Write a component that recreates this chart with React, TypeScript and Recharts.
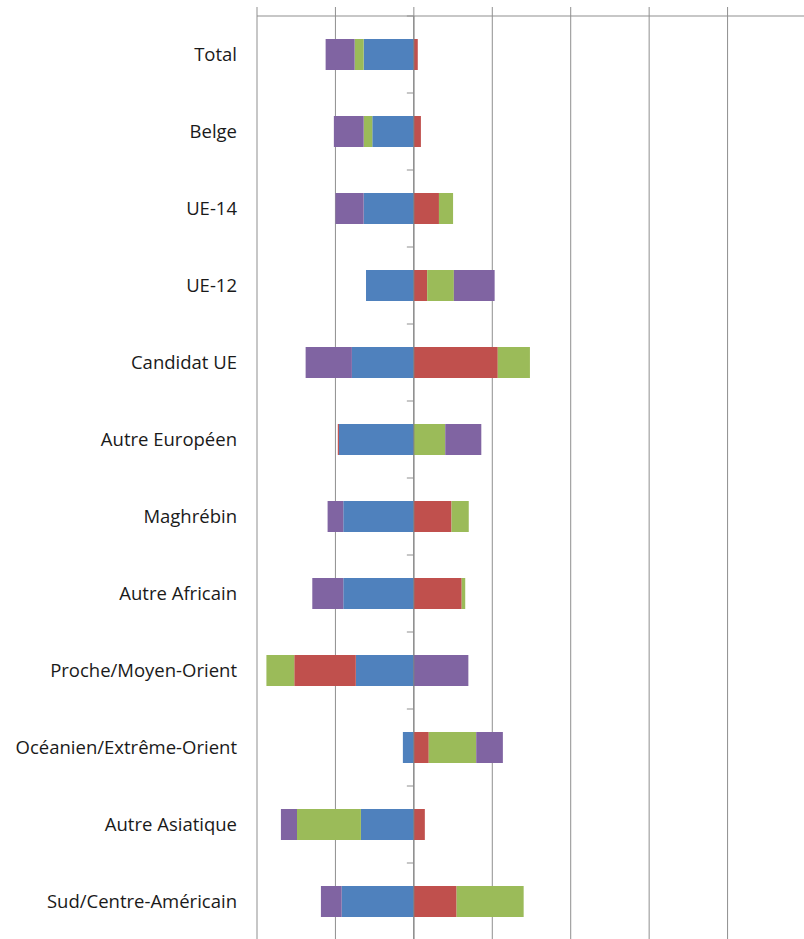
import React from "react";
import { BarChart, Bar, XAxis, YAxis, CartesianGrid, ReferenceLine } from "recharts";

const categories = [
  "Total",
  "Belge",
  "UE-14",
  "UE-12",
  "Candidat UE",
  "Autre Européen",
  "Maghrébin",
  "Autre Africain",
  "Proche/Moyen-Orient",
  "Océanien/Extrême-Orient",
  "Autre Asiatique",
  "Sud/Centre-Américain",
];

// stacked in this order, negatives go left from 0, positives right
const serie1 = [-6.4, -5.3, -6.4, -6.1, -7.9, -9.55, -9.0, -9.0, -7.4, -1.4, -6.75, -9.2];
const serie2 = [0.5, 0.9, 3.2, 1.7, 10.7, -0.15, 4.8, 6.1, -7.85, 1.9, 1.4, 5.45];
const serie3 = [-1.15, -1.1, 1.8, 3.4, 4.1, 4.0, 2.2, 0.45, -3.55, 6.05, -8.15, 8.55];
const serie4 = [-3.7, -3.8, -3.6, 5.2, -5.9, 4.6, -2.0, -3.95, 6.95, 3.4, -2.05, -2.65];

const xTicks = [-20, -10, 0, 10, 20, 30, 40, 50];

const data = categories.map((name, i) => ({
  name,
  s1: serie1[i],
  s2: serie2[i],
  s3: serie3[i],
  s4: serie4[i],
}));

const WIDTH = 806;
const HEIGHT = 940;
const Y_AXIS_W = 257;
const TOP = 16;
const GRID = "#8f8f8f";

const plotW = WIDTH - Y_AXIS_W;
const plotH = HEIGHT - TOP;
const bandH = plotH / categories.length;
const zeroX = Y_AXIS_W + ((0 - xTicks[0]) / (xTicks[xTicks.length - 1] - xTicks[0])) * plotW;

const NoLabel = () => <g />;

const CategoryTick = (props: any) => {
  const { x, y, payload } = props;
  const yb = y - bandH / 2;
  return (
    <g>
      <text
        x={x}
        y={y}
        dy={6}
        textAnchor="end"
        fill="#1a1a1a"
        fontSize={18.5}
        fontFamily="'Open Sans', sans-serif"
      >
        {payload.value}
      </text>
      <line x1={zeroX - 7} x2={zeroX} y1={yb} y2={yb} stroke={GRID} strokeWidth={1} />
    </g>
  );
};

export default function App() {
  return (
    <div style={{ position: "absolute", left: 0, top: 0, width: 804, height: 939, overflow: "hidden", background: "#fff" }}>
      <BarChart
        width={WIDTH}
        height={HEIGHT}
        data={data}
        layout="vertical"
        stackOffset="sign"
        margin={{ top: 0, right: 0, bottom: 0, left: 0 }}
      >
        <CartesianGrid horizontal={false} stroke={GRID} verticalValues={xTicks} />
        <XAxis
          type="number"
          orientation="top"
          domain={[xTicks[0], xTicks[xTicks.length - 1]]}
          ticks={xTicks}
          interval={0}
          height={TOP}
          tick={<NoLabel />}
          tickSize={9}
          stroke={GRID}
          axisLine={{ stroke: GRID }}
          tickLine={{ stroke: GRID }}
          allowDataOverflow
        />
        <YAxis
          type="category"
          dataKey="name"
          width={Y_AXIS_W}
          axisLine={false}
          tickLine={false}
          tickSize={0}
          tickMargin={20}
          interval={0}
          tick={<CategoryTick />}
        />
        <ReferenceLine x={0} stroke="#7f7f7f" strokeWidth={1} />
        <Bar dataKey="s1" stackId="a" fill="#4F81BD" barSize={31} isAnimationActive={false} />
        <Bar dataKey="s2" stackId="a" fill="#C0504D" barSize={31} isAnimationActive={false} />
        <Bar dataKey="s3" stackId="a" fill="#9BBB59" barSize={31} isAnimationActive={false} />
        <Bar dataKey="s4" stackId="a" fill="#8064A2" barSize={31} isAnimationActive={false} />
      </BarChart>
    </div>
  );
}
